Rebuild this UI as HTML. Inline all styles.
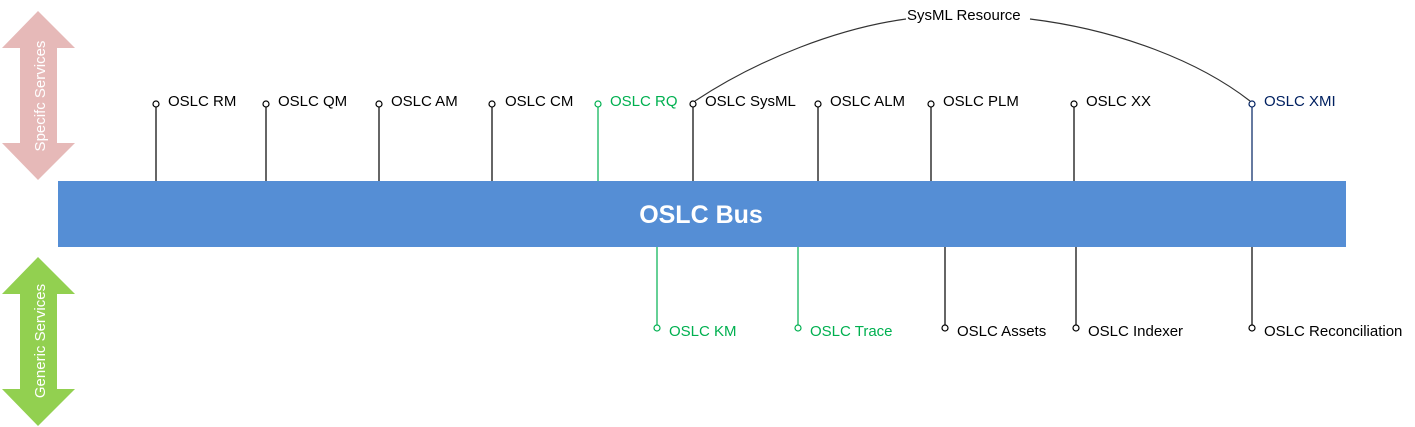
<!DOCTYPE html>
<html><head><meta charset="utf-8"><style>
html,body{margin:0;padding:0;background:#fff;}
svg{display:block;font-family:"Liberation Sans",sans-serif;}
</style></head><body>
<svg width="1415" height="427" viewBox="0 0 1415 427">
<polygon points="38,11 75,48 57,48 57,143 75,143 38,180 2,143 20,143 20,48 2,48" fill="#e6b9b8"/>
<text transform="translate(45,96) rotate(-90)" text-anchor="middle" fill="#fff" font-size="15">Specifc Services</text>
<polygon points="38,257 75,294 57,294 57,389 75,389 38,426 2,389 20,389 20,294 2,294" fill="#92d050"/>
<text transform="translate(45,341) rotate(-90)" text-anchor="middle" fill="#fff" font-size="15">Generic Services</text>
<rect x="58" y="181" width="1288" height="66" fill="#558ed5"/>
<text x="701" y="223" text-anchor="middle" fill="#fff" font-size="25" font-weight="bold">OSLC Bus</text>
<g font-size="15" stroke-width="1.2">
<g stroke="#000" fill="#fff">
<line x1="156" y1="107" x2="156" y2="181"/><circle cx="156" cy="104" r="3"/>
<line x1="266" y1="107" x2="266" y2="181"/><circle cx="266" cy="104" r="3"/>
<line x1="379" y1="107" x2="379" y2="181"/><circle cx="379" cy="104" r="3"/>
<line x1="492" y1="107" x2="492" y2="181"/><circle cx="492" cy="104" r="3"/>
<line x1="693" y1="107" x2="693" y2="181"/><circle cx="693" cy="104" r="3"/>
<line x1="818" y1="107" x2="818" y2="181"/><circle cx="818" cy="104" r="3"/>
<line x1="931" y1="107" x2="931" y2="181"/><circle cx="931" cy="104" r="3"/>
<line x1="1074" y1="107" x2="1074" y2="181"/><circle cx="1074" cy="104" r="3"/>
<line x1="945" y1="247" x2="945" y2="325"/><circle cx="945" cy="328" r="3"/>
<line x1="1076" y1="247" x2="1076" y2="325"/><circle cx="1076" cy="328" r="3"/>
<line x1="1252" y1="247" x2="1252" y2="325"/><circle cx="1252" cy="328" r="3"/>
</g>
<g stroke="#00b050" fill="#fff">
<line x1="598" y1="107" x2="598" y2="181"/><circle cx="598" cy="104" r="3"/>
<line x1="657" y1="247" x2="657" y2="325"/><circle cx="657" cy="328" r="3"/>
<line x1="798" y1="247" x2="798" y2="325"/><circle cx="798" cy="328" r="3"/>
</g>
<g stroke="#002060" fill="#fff">
<line x1="1252" y1="107" x2="1252" y2="181"/><circle cx="1252" cy="104" r="3"/>
</g>
<path d="M695,101 C760,58 840,28 906,19 M1030,19 C1120,30 1200,62 1250,101" fill="none" stroke="#333"/>
<g fill="#000" stroke="none">
<text x="168" y="106">OSLC RM</text>
<text x="278" y="106">OSLC QM</text>
<text x="391" y="106">OSLC AM</text>
<text x="505" y="106">OSLC CM</text>
<text x="705" y="106">OSLC SysML</text>
<text x="830" y="106">OSLC ALM</text>
<text x="943" y="106">OSLC PLM</text>
<text x="1086" y="106">OSLC XX</text>
<text x="907" y="20">SysML Resource</text>
<text x="957" y="336">OSLC Assets</text>
<text x="1088" y="336">OSLC Indexer</text>
<text x="1264" y="336">OSLC Reconciliation</text>
</g>
<g fill="#00b050" stroke="none">
<text x="610" y="106">OSLC RQ</text>
<text x="669" y="336">OSLC KM</text>
<text x="810" y="336">OSLC Trace</text>
</g>
<text x="1264" y="106" fill="#002060" stroke="none">OSLC XMI</text>
</g>
</svg>
</body></html>
